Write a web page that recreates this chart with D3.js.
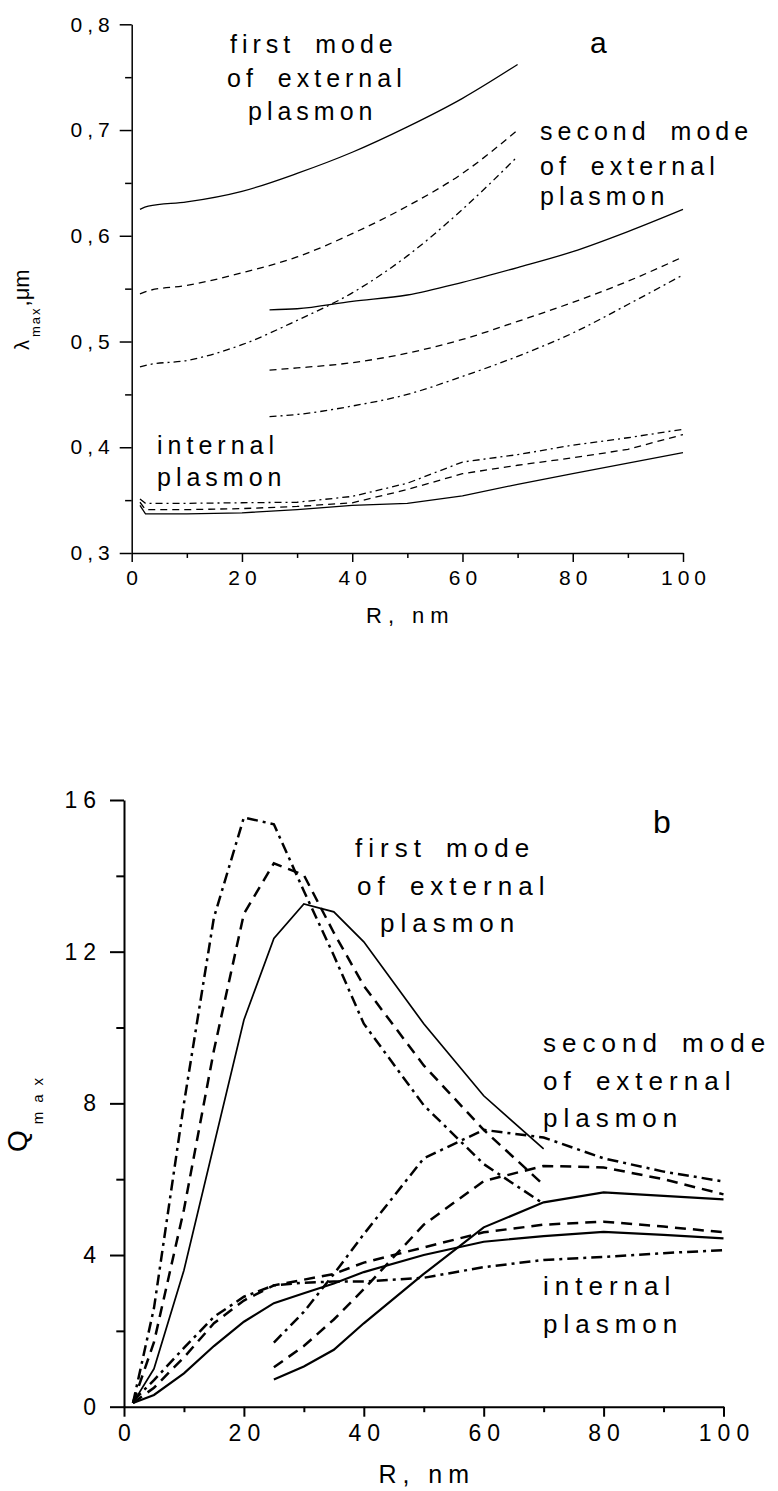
<!DOCTYPE html>
<html>
<head>
<meta charset="utf-8">
<script src="https://d3js.org/d3.v7.min.js"></script>
<style>
  body { margin: 0; background: #fff; }
  svg text { font-family: 'Liberation Sans', Arial, Helvetica, sans-serif; fill: #000; }
  .axis path, .axis line { stroke: #000; fill: none; }
  .pa .axis path, .pa .axis line { stroke-width: 1.5; }
  .pb .axis path, .pb .axis line { stroke-width: 2; }
  .curve { fill: none; stroke: #000; }
</style>
</head>
<body>
<script>
// ---- panel a : peak wavelength, um ----
var rTopFirst = [1.5, 3, 10, 20, 30, 40, 50, 60, 70];
var topFirstSolid = [0.625, 0.628, 0.632, 0.642, 0.659, 0.679, 0.703, 0.730, 0.762];
var topFirstDash = [0.545, 0.548, 0.553, 0.565, 0.580, 0.602, 0.628, 0.659, 0.700];
var topFirstDashDot = [0.476, 0.478, 0.482, 0.497, 0.520, 0.546, 0.581, 0.625, 0.675];

var rTopSecond = [25, 30, 40, 50, 60, 70, 80, 90, 100];
var topSecondSolid = [0.530, 0.531, 0.538, 0.544, 0.556, 0.570, 0.585, 0.604, 0.625];
var topSecondDash = [0.473, 0.475, 0.480, 0.489, 0.502, 0.519, 0.537, 0.557, 0.580];
var topSecondDashDot = [0.429, 0.431, 0.439, 0.450, 0.467, 0.486, 0.508, 0.535, 0.563];

var rTopInternal = [1.5, 2.5, 10, 20, 30, 40, 50, 60, 70, 80, 90, 100];
var topIntSolid = [0.345, 0.337, 0.337, 0.338, 0.341, 0.345, 0.347, 0.354, 0.365, 0.375, 0.385, 0.395];
var topIntDash = [0.348, 0.341, 0.341, 0.342, 0.344, 0.3475, 0.360, 0.375, 0.383, 0.390, 0.398, 0.412];
var topIntDashDot = [0.351, 0.347, 0.347, 0.3475, 0.348, 0.3535, 0.366, 0.386, 0.393, 0.402, 0.409, 0.417];

var topYMajor = [0.3, 0.4, 0.5, 0.6, 0.7, 0.8];
var topYMinor = [0.35, 0.45, 0.55, 0.65, 0.75];

// ---- panel b : Q max ----
var rBotFirst = [1.5, 5, 10, 15, 20, 25, 30, 35, 40, 50, 60, 70];
var botFirstSolid = [0.1, 1.0, 3.6, 6.9, 10.2, 12.35, 13.26, 13.05, 12.26, 10.1, 8.2, 6.8];
var botFirstDash = [0.1, 1.7, 5.2, 9.4, 13.0, 14.33, 14.02, 12.5, 11.1, 9.0, 7.3, 5.85];
var botFirstDashDot = [0.1, 2.6, 8.0, 12.9, 15.54, 15.36, 13.6, 11.9, 10.1, 7.95, 6.4, 5.35];

var rBotSecond = [25, 30, 35, 40, 50, 60, 70, 80, 90, 100];
var botSecondSolid = [0.72, 1.06, 1.5, 2.2, 3.5, 4.73, 5.39, 5.65, 5.56, 5.47];
var botSecondDash = [1.04, 1.6, 2.3, 3.1, 4.8, 5.95, 6.35, 6.31, 6.0, 5.6];
var botSecondDashDot = [1.69, 2.5, 3.5, 4.55, 6.55, 7.3, 7.1, 6.55, 6.2, 5.94];

var rBotInternal = [1.5, 5, 10, 15, 20, 25, 30, 35, 40, 50, 60, 70, 80, 90, 100];
var botIntSolid = [0.1, 0.31, 0.88, 1.6, 2.24, 2.73, 2.99, 3.25, 3.55, 4.0, 4.35, 4.5, 4.61, 4.53, 4.44];
var botIntDash = [0.1, 0.5, 1.3, 2.2, 2.8, 3.2, 3.35, 3.5, 3.8, 4.2, 4.6, 4.8, 4.88, 4.75, 4.6];
var botIntDashDot = [0.15, 0.7, 1.55, 2.37, 2.9, 3.2, 3.27, 3.3, 3.3, 3.4, 3.68, 3.87, 3.95, 4.05, 4.13];

var botYMajor = [0, 4, 8, 12, 16];
var botYMinor = [2, 6, 10, 14];

var xMajor = [0, 20, 40, 60, 80, 100];
var xMinor = [10, 30, 50, 70, 90];

var svg = d3.select('body')
  .append('svg')
  .attr('width', 778)
  .attr('height', 1491);

//Scales
var xTop = d3.scaleLinear().domain([0, 100]).range([131.7, 683]);
var yTop = d3.scaleLinear().domain([0.3, 0.8]).range([553, 24.3]);
var xBot = d3.scaleLinear().domain([0, 100]).range([124, 723.5]);
var yBot = d3.scaleLinear().domain([0, 16]).range([1406.7, 800]);

var commaFmt = d => d3.format('.1f')(d).replace('.', ',');

function drawAxes(g, x, y, o) {
  //X axis, major + minor
  var gx = g.append('g')
    .attr('class', 'axis')
    .attr('transform', `translate(0, ${y.range()[0]})`)
    .call(d3.axisBottom(x)
      .tickValues(xMajor)
      .tickSizeInner(o.xTick)
      .tickSizeOuter(0)
      .tickPadding(o.xPad)
      .tickFormat(d3.format('d')));
  gx.selectAll('text')
    .attr('dx', o.ls / 2)
    .style('font-size', o.fs + 'px')
    .style('letter-spacing', o.ls + 'px');
  gx.attr('font-family', null).attr('font-size', null);

  var gxm = g.append('g')
    .attr('class', 'axis')
    .attr('transform', `translate(0, ${y.range()[0]})`)
    .call(d3.axisBottom(x).tickValues(xMinor).tickSize(o.xTick * 0.55).tickFormat(''));
  gxm.select('.domain').remove();

  //Y axis, major + minor
  var gy = g.append('g')
    .attr('class', 'axis')
    .attr('transform', `translate(${x.range()[0]}, 0)`)
    .call(d3.axisLeft(y)
      .tickValues(o.yMajor)
      .tickSizeInner(o.yTick)
      .tickSizeOuter(0)
      .tickPadding(o.yPad)
      .tickFormat(o.yFmt));
  gy.selectAll('text')
    .style('font-size', o.fs + 'px')
    .style('letter-spacing', o.ls + 'px');
  gy.attr('font-family', null).attr('font-size', null);

  var gym = g.append('g')
    .attr('class', 'axis')
    .attr('transform', `translate(${x.range()[0]}, 0)`)
    .call(d3.axisLeft(y).tickValues(o.yMinor).tickSize(o.yTick * 0.55).tickFormat(''));
  gym.select('.domain').remove();
}

function drawCurve(g, x, y, r, vals, dash, width, curve) {
  var line = d3.line()
    .x((d, i) => x(r[i]))
    .y(d => y(d))
    .curve(curve);
  g.append('path')
    .attr('class', 'curve')
    .attr('d', line(vals))
    .attr('stroke-width', width)
    .attr('stroke-dasharray', dash);
}

// lines: [text, x, baseline]
function label(g, lines, fs, ls, ws) {
  var t = g.append('text')
    .style('font-size', fs + 'px')
    .style('letter-spacing', ls + 'px')
    .style('word-spacing', ws + 'px');
  lines.forEach(l => {
    t.append('tspan').attr('x', l[1]).attr('y', l[2]).text(l[0]);
  });
}

// ================= panel a =================
var pa = svg.append('g').attr('class', 'pa');
drawAxes(pa, xTop, yTop, {
  xTick: 9, xPad: 8, yTick: 12, yPad: 5, fs: 21, ls: 5,
  yMajor: topYMajor, yMinor: topYMinor, yFmt: commaFmt
});

var sm = d3.curveMonotoneX;
drawCurve(pa, xTop, yTop, rTopFirst, topFirstSolid, null, 1.3, sm);
drawCurve(pa, xTop, yTop, rTopFirst, topFirstDash, '7,5', 1.3, sm);
drawCurve(pa, xTop, yTop, rTopFirst, topFirstDashDot, '7,4,2,4', 1.3, sm);
drawCurve(pa, xTop, yTop, rTopSecond, topSecondSolid, null, 1.3, sm);
drawCurve(pa, xTop, yTop, rTopSecond, topSecondDash, '7,5', 1.3, sm);
drawCurve(pa, xTop, yTop, rTopSecond, topSecondDashDot, '7,4,2,4', 1.3, sm);
drawCurve(pa, xTop, yTop, rTopInternal, topIntSolid, null, 1.3, d3.curveLinear);
drawCurve(pa, xTop, yTop, rTopInternal, topIntDash, '7,5', 1.3, d3.curveLinear);
drawCurve(pa, xTop, yTop, rTopInternal, topIntDashDot, '7,4,2,4', 1.3, d3.curveLinear);

//Axis titles
pa.append('text')
  .attr('x', (xTop.range()[0] + xTop.range()[1]) / 2 + 3)
  .attr('y', 623)
  .attr('text-anchor', 'middle')
  .style('font-size', '22px')
  .style('letter-spacing', '6px')
  .text('R, nm');

var yt = pa.append('text')
  .attr('transform', 'translate(29, 350) rotate(-90)')
  .style('font-size', '20px');
yt.append('tspan').text('λ');
yt.append('tspan').attr('dy', 11).attr('dx', 3).style('font-size', '13px').style('letter-spacing', '2px').text('max');
yt.append('tspan').attr('dy', -11).style('font-size', '22px').text(',μm');

//Annotations
label(pa, [['first mode', 230, 53], ['of external', 227, 87], ['plasmon', 248, 120]], 25, 5, 8);
label(pa, [['second mode', 540, 140], ['of external', 540, 175], ['plasmon', 540, 205]], 25, 5, 8);
label(pa, [['internal', 157, 454], ['plasmon', 157, 486]], 25, 5, 8);
pa.append('text').attr('x', 590).attr('y', 53).style('font-size', '30px').text('a');

// ================= panel b =================
var pb = svg.append('g').attr('class', 'pb');
drawAxes(pb, xBot, yBot, {
  xTick: 10, xPad: 8, yTick: 14, yPad: 8, fs: 23, ls: 6,
  yMajor: botYMajor, yMinor: botYMinor, yFmt: d3.format('d')
});

var ln = d3.curveLinear;
drawCurve(pb, xBot, yBot, rBotFirst, botFirstSolid, null, 1.7, ln);
drawCurve(pb, xBot, yBot, rBotFirst, botFirstDash, '11,7', 2.5, ln);
drawCurve(pb, xBot, yBot, rBotFirst, botFirstDashDot, '11,5,3,5', 2.5, ln);
drawCurve(pb, xBot, yBot, rBotSecond, botSecondSolid, null, 2.2, ln);
drawCurve(pb, xBot, yBot, rBotSecond, botSecondDash, '11,7', 2.5, ln);
drawCurve(pb, xBot, yBot, rBotSecond, botSecondDashDot, '11,5,3,5', 2.5, ln);
drawCurve(pb, xBot, yBot, rBotInternal, botIntSolid, null, 2.2, ln);
drawCurve(pb, xBot, yBot, rBotInternal, botIntDash, '11,7', 2.5, ln);
drawCurve(pb, xBot, yBot, rBotInternal, botIntDashDot, '11,5,3,5', 2.5, ln);

pb.append('text')
  .attr('x', (xBot.range()[0] + xBot.range()[1]) / 2 + 3)
  .attr('y', 1483)
  .attr('text-anchor', 'middle')
  .style('font-size', '25px')
  .style('letter-spacing', '6px')
  .text('R, nm');

var yb = pb.append('text')
  .attr('transform', 'translate(27, 1152) rotate(-90)')
  .style('font-size', '28px');
yb.append('tspan').text('Q');
yb.append('tspan').attr('dy', 16).attr('dx', 6).style('font-size', '15px').style('letter-spacing', '9px').text('max');

label(pb, [['first mode', 355, 857], ['of external', 357, 895], ['plasmon', 380, 932]], 26, 6, 6);
label(pb, [['second mode', 543, 1052], ['of external', 543, 1090], ['plasmon', 543, 1127]], 26, 6, 6);
label(pb, [['internal', 543, 1295], ['plasmon', 543, 1333]], 26, 6, 6);
pb.append('text').attr('x', 653).attr('y', 833).style('font-size', '32px').text('b');
</script>
</body>
</html>
